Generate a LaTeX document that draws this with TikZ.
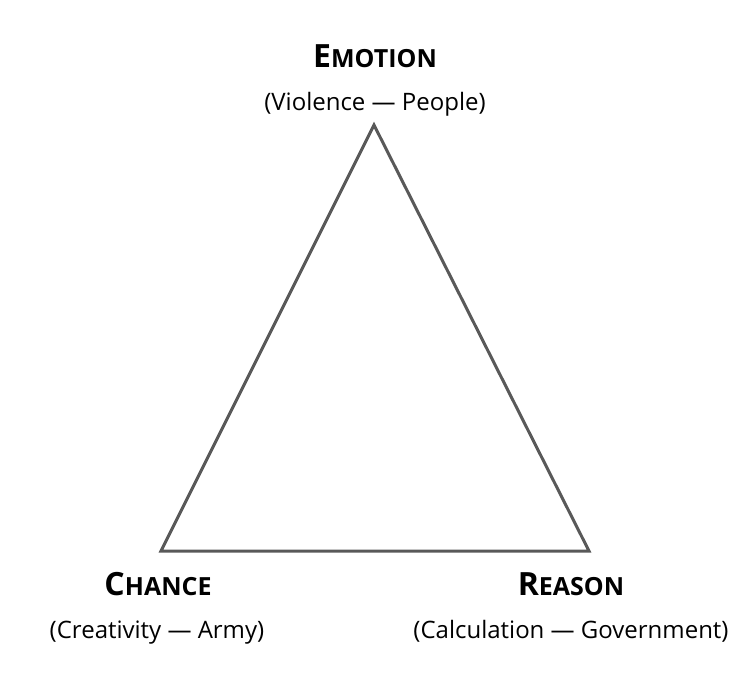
\documentclass[tikz,border=0pt]{standalone}
\usepackage{fontspec}
\setmainfont{Open Sans}
\newcommand{\sctitle}[2]{{\fontsize{32}{34}\selectfont\bfseries #1}{\fontsize{25}{28}\selectfont\bfseries #2}}
\begin{document}
\begin{tikzpicture}[x=1pt,y=-1pt,
  title/.style={inner sep=0pt, text=black, anchor=base},
  sub/.style={inner sep=0pt, text=black, font=\fontsize{24}{28}\selectfont, anchor=base},
  edge/.style={draw=black!65, line width=3pt, line join=miter}]
\useasboundingbox (0,0) rectangle (752,700);
\coordinate (top) at (374,125);
\coordinate (left) at (161,551);
\coordinate (right) at (589,551);
\draw[edge] (top) -- (left) -- (right) -- cycle;
\node[title] (emo) at (375,68) {\sctitle{E}{MOTION}};
\node[sub] (emosub) at (375,111) {(Violence — People)};
\node[title] (cha) at (158,595) {\sctitle{C}{HANCE}};
\node[sub] (chasub) at (157,638) {(Creativity — Army)};
\node[title] (rea) at (571,595) {\sctitle{R}{EASON}};
\node[sub] (reasub) at (571,638) {(Calculation — Government)};
\end{tikzpicture}
\end{document}
